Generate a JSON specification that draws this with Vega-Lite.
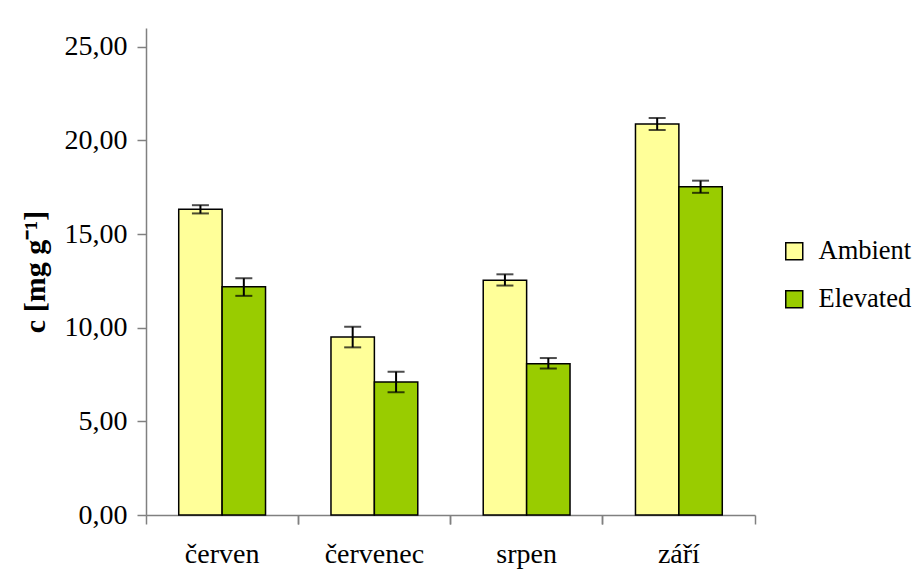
{
  "$schema": "https://vega.github.io/schema/vega-lite/v6.json",
  "width": 609,
  "height": 487,
  "autosize": "none",
  "padding": {"left": 146, "top": 28, "right": 168, "bottom": 54},
  "config": {
    "view": {"stroke": null},
    "font": "Liberation Serif",
    "axis": {"domainColor": "#808080", "tickColor": "#808080", "labelColor": "black", "labelFont": "Liberation Serif", "domainWidth": 1.5, "tickWidth": 1.5, "grid": false},
    "legend": {"labelFont": "Liberation Serif"}
  },
  "data": {
    "values": [
      {"month": "červen", "series": "Ambient", "c": 16.32, "lo": 16.1, "hi": 16.54},
      {"month": "červen", "series": "Elevated", "c": 12.18, "lo": 11.7, "hi": 12.64},
      {"month": "červenec", "series": "Ambient", "c": 9.5, "lo": 8.95, "hi": 10.05},
      {"month": "červenec", "series": "Elevated", "c": 7.1, "lo": 6.56, "hi": 7.65},
      {"month": "srpen", "series": "Ambient", "c": 12.53, "lo": 12.25, "hi": 12.85},
      {"month": "srpen", "series": "Elevated", "c": 8.07, "lo": 7.82, "hi": 8.38},
      {"month": "září", "series": "Ambient", "c": 20.88, "lo": 20.56, "hi": 21.2},
      {"month": "září", "series": "Elevated", "c": 17.52, "lo": 17.2, "hi": 17.85}
    ]
  },
  "encoding": {
    "x": {"field": "month", "type": "nominal", "sort": ["červen", "červenec", "srpen", "září"], "scale": {"paddingInner": 0, "paddingOuter": 0}},
    "xOffset": {"field": "series", "type": "nominal", "scale": {"paddingInner": 0, "paddingOuter": 0.754}}
  },
  "layer": [
    {
      "mark": {"type": "bar", "stroke": "black", "strokeWidth": 1.5},
      "encoding": {
        "x": {"field": "month", "type": "nominal", "sort": ["červen", "červenec", "srpen", "září"], "axis": {"orient": "bottom", "offset": 0, "title": null, "labels": false, "ticks": true, "tickSize": 9, "bandPosition": 0, "domain": true}},
        "y": {"field": "c", "type": "quantitative", "scale": {"domain": [0, 25]},
          "axis": {"title": "c [mg g⁻¹]", "titleFontSize": 30, "titleFont": "Liberation Serif", "titleFontWeight": "bold", "titleColor": "black", "titlePadding": 14,
            "values": [0, 5, 10, 15, 20, 25], "labelExpr": "replace(format(datum.value, '.2f'), '.', ',')", "labelFont": "Liberation Serif", "labelFontSize": 28, "labelPadding": 10, "tickSize": 9}},
        "color": {"field": "series", "type": "nominal", "scale": {"domain": ["Ambient", "Elevated"], "range": ["#FFFF99", "#99CC00"]},
          "legend": {"title": null, "orient": "none", "legendX": 635, "legendY": 210, "symbolType": "square", "symbolSize": 289, "symbolStrokeColor": "black", "symbolStrokeWidth": 1.5, "symbolOpacity": 1, "labelFont": "Liberation Serif", "labelFontSize": 26.5, "labelColor": "black", "rowPadding": 21, "labelOffset": 11}}
      }
    },
    {
      "mark": {"type": "rule", "color": "black", "strokeWidth": 2},
      "encoding": {
        "x": {"field": "month", "type": "nominal", "sort": ["červen", "červenec", "srpen", "září"], "axis": {"orient": "bottom", "offset": 0, "title": null, "labels": false, "ticks": true, "tickSize": 9, "bandPosition": 1, "domain": false}},
        "y": {"field": "lo", "type": "quantitative"},
        "y2": {"field": "hi"}
      }
    },
    {
      "mark": {"type": "tick", "color": "black", "thickness": 2, "size": 17, "orient": "horizontal"},
      "encoding": {
        "x": {"field": "month", "type": "nominal", "sort": ["červen", "červenec", "srpen", "září"], "axis": {"orient": "bottom", "offset": 0, "title": null, "labels": true, "ticks": false, "domain": false, "labelFont": "Liberation Serif", "labelFontSize": 28, "labelPadding": 25, "labelAngle": 0}},
        "y": {"field": "lo", "type": "quantitative"}
      }
    },
    {
      "mark": {"type": "tick", "color": "black", "thickness": 2, "size": 17, "orient": "horizontal"},
      "encoding": {
        "x": {"field": "month", "type": "nominal", "sort": ["červen", "červenec", "srpen", "září"], "axis": null},
        "y": {"field": "hi", "type": "quantitative"}
      }
    }
  ],
  "resolve": {"axis": {"x": "independent"}}
}
